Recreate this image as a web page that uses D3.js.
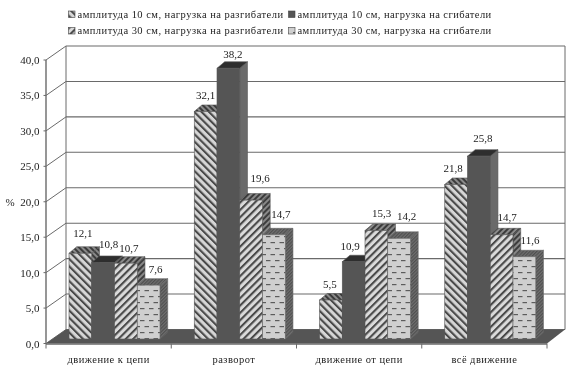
<!DOCTYPE html>
<html><head><meta charset="utf-8"><style>html,body{margin:0;padding:0;background:#fff}svg{display:block}text{font-family:"Liberation Serif",serif;fill:#222}</style>
<script src="https://cdn.jsdelivr.net/npm/d3@7"></script></head><body><svg id="c" width="570" height="379"></svg>
<script>
const categories=["движение к цепи","разворот","движение от цепи","всё движение"];
const seriesNames=["амплитуда 10  см,  нагрузка на разгибатели","амплитуда 10 см, нагрузка на сгибатели","амплитуда 30  см,  нагрузка на разгибатели","амплитуда 30 см, нагрузка на сгибатели"];
const s1=[12.1,32.1,5.5,21.8];
const s2=[10.8,38.2,10.9,25.8];
const s3=[10.7,19.6,15.3,14.7];
const s4=[7.6,14.7,14.2,11.6];
const series=[s1,s2,s3,s4];
const yTicks=[0,5,10,15,20,25,30,35,40];
const fmt=v=>v.toFixed(1).replace(".",",");
// hand-placed data labels in the reference: nudges from each bar's top centre [series][category]
const nudgeX=[[2.6,0,-1,-3],[5.4,4.6,-3.6,4],[3,9,5.3,5.4],[7,7,7.6,5.6]];
const nudgeY=[[-16,-12.5,-12,-12.5],[-14.5,-10.3,-11.7,-14],[-11,-18,-13.6,-13.8],[-12,-16.8,-18.4,-12.8]];

const svg=d3.select("#c");
const defs=svg.append("defs");
defs.append("filter").attr("id","soft").attr("x",0).attr("y",0).attr("width",1).attr("height",1)
  .append("feGaussianBlur").attr("stdDeviation",0.5);
function stripes(id,bg,fg,angle,w,sw){
  const p=defs.append("pattern").attr("id",id).attr("patternUnits","userSpaceOnUse").attr("width",w).attr("height",w).attr("patternTransform",`rotate(${angle})`);
  p.append("rect").attr("width",w).attr("height",w).attr("fill",bg);
  p.append("rect").attr("width",sw).attr("height",w).attr("fill",fg);
}
function dashes(id,bg,fg){
  const p=defs.append("pattern").attr("id",id).attr("patternUnits","userSpaceOnUse").attr("width",9).attr("height",12);
  p.append("rect").attr("width",9).attr("height",12).attr("fill",bg);
  p.append("rect").attr("x",0.5).attr("y",2).attr("width",4.5).attr("height",1.2).attr("fill",fg);
  p.append("rect").attr("x",5).attr("y",8).attr("width",4).attr("height",1.2).attr("fill",fg);
  p.append("rect").attr("x",0).attr("y",8).attr("width",.5).attr("height",1.2).attr("fill",fg);
}
stripes("p1f","#d6d6d6","#4a4a4a",-45,5.2,2.1);
stripes("p1t","#8a8a8a","#3a3a3a",-45,4,2);
stripes("p1s","#888","#3c3c3c",-45,4,2);
stripes("p3f","#dadada","#4a4a4a",45,5.2,2.1);
stripes("p3t","#8a8a8a","#3a3a3a",45,4,2);
stripes("p3s","#888","#3c3c3c",45,4,2);
dashes("p4f","#cfcfcf","#5c5c5c");
stripes("p4t","#6f6f6f","#505050",45,2.4,1.2);
stripes("p4s","#6f6f6f","#505050",45,2.4,1.2);

const fills=[
 {f:"url(#p1f)",t:"url(#p1t)",s:"url(#p1s)",e:"#555"},
 {f:"#555555",t:"#2f2f2f",s:"#6a6a6a",e:"#555"},
 {f:"url(#p3f)",t:"url(#p3t)",s:"url(#p3s)",e:"#555"},
 {f:"url(#p4f)",t:"url(#p4t)",s:"url(#p4s)",e:"#666"}];

const x0=d3.scaleBand().domain(categories).range([46,547]);
const xs=d3.scaleBand().domain(d3.range(4)).range([23,114]);
const y=d3.scaleLinear().domain([0,40]).range([343.5,60]);
const wall={dx:20,dy:-14};
const bar={oy:-4.5,dx:7.7,dy:-6.5};

const g=svg.append("g").attr("filter","url(#soft)");
g.append("rect").attr("width",570).attr("height",379).attr("fill","#fff");
const line="#6a6a6a";
yTicks.forEach(t=>{
  g.append("line").attr("x1",46+wall.dx).attr("x2",565).attr("y1",y(t)+wall.dy).attr("y2",y(t)+wall.dy).attr("stroke",line).attr("stroke-width",1.1);
  g.append("line").attr("x1",46).attr("x2",46+wall.dx).attr("y1",y(t)).attr("y2",y(t)+wall.dy).attr("stroke",line).attr("stroke-width",1);
});
g.append("line").attr("x1",66).attr("x2",66).attr("y1",y(40)+wall.dy).attr("y2",y(0)+wall.dy).attr("stroke",line);
g.append("line").attr("x1",565).attr("x2",565).attr("y1",y(40)+wall.dy).attr("y2",y(0)+wall.dy).attr("stroke",line);
g.append("path").attr("fill","#555").attr("d",d3.line()([[46,y(0)],[66,y(0)+wall.dy],[565,y(0)+wall.dy],[547,y(0)]])+"Z");
g.append("line").attr("x1",46).attr("x2",46).attr("y1",y(40)).attr("y2",y(0)).attr("stroke",line).attr("stroke-width",1.4);
g.append("line").attr("x1",46).attr("x2",547).attr("y1",y(0)+.5).attr("y2",y(0)+.5).attr("stroke",line).attr("stroke-width",1.4);
yTicks.forEach(t=>{
  g.append("line").attr("x1",43.5).attr("x2",46).attr("y1",y(t)).attr("y2",y(t)).attr("stroke",line);
  g.append("text").attr("x",39.5).attr("y",y(t)+4).attr("text-anchor","end").attr("font-size",11).text(fmt(t));
});
[...categories.map(c=>x0(c)),547].forEach(v=>{
  g.append("line").attr("x1",v).attr("x2",v).attr("y1",y(0)).attr("y2",y(0)+5).attr("stroke",line);
});
categories.forEach(c=>{
  g.append("text").attr("x",x0(c)+x0.bandwidth()/2).attr("y",363).attr("text-anchor","middle").attr("font-size",10.5).attr("letter-spacing",.45).text(c);
});
g.append("text").attr("x",5.5).attr("y",206).attr("font-size",11).text("%");
const w=xs.bandwidth();
categories.forEach((c,ci)=>{
  series.forEach((vals,si)=>{
    const L=x0(c)+xs(si), R=L+w, B=y(0)+bar.oy, T=y(vals[ci])+bar.oy, st=fills[si];
    const bg=g.append("g");
    bg.append("path").attr("fill",st.s).attr("stroke",st.e).attr("stroke-width",.6).attr("d",d3.line()([[R,T],[R+bar.dx,T+bar.dy],[R+bar.dx,B+bar.dy],[R,B]])+"Z");
    bg.append("path").attr("fill",st.t).attr("stroke",st.e).attr("stroke-width",.6).attr("d",d3.line()([[L,T],[L+bar.dx,T+bar.dy],[R+bar.dx,T+bar.dy],[R,T]])+"Z");
    bg.append("rect").attr("x",L).attr("y",T).attr("width",w).attr("height",B-T).attr("fill",st.f).attr("stroke",st.e).attr("stroke-width",.6);
  });
});
categories.forEach((c,ci)=>{
  series.forEach((vals,si)=>{
    g.append("text").attr("x",x0(c)+xs(si)+w/2+nudgeX[si][ci]).attr("y",y(vals[ci])+bar.oy+nudgeY[si][ci]).attr("text-anchor","middle").attr("font-size",11).text(fmt(vals[ci]));
  });
});
const legX=[68.5,288.5],legY=[14.5,31];
seriesNames.forEach((n,i)=>{
  const lx=legX[i%2],ly=legY[i>>1],st=fills[i];
  g.append("rect").attr("x",lx).attr("y",ly-3.5).attr("width",6.5).attr("height",6.5).attr("fill",st.f).attr("stroke","#444").attr("stroke-width",.6);
  g.append("text").attr("x",lx+9).attr("y",ly+3).attr("font-size",10.5).attr("letter-spacing",i%2?.43:.47).text(n);
});
</script></body></html>
